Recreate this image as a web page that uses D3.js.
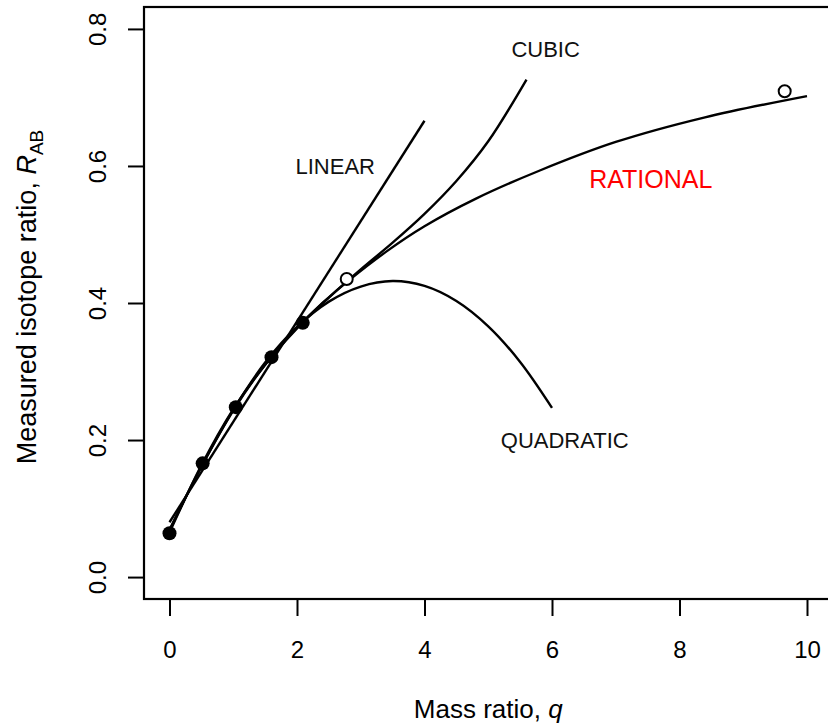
<!DOCTYPE html>
<html>
<head>
<meta charset="utf-8">
<script src="https://cdn.jsdelivr.net/npm/d3@7"></script>
<style>
  body { margin: 0; background: #fff; }
  svg { display: block; font-family: "Liberation Sans", Arial, sans-serif; }
</style>
</head>
<body>
<svg id="chart" width="828" height="724"></svg>
<script>
// measured points (q, R_AB)
const fitQ = [0, 0.52, 1.04, 1.6, 2.09];
const fitR = [0.064, 0.166, 0.248, 0.321, 0.371];
const testQ = [2.78, 9.65];
const testR = [0.435, 0.709];

// fitted curves
const linearQ = [0, 4];
const linearR = [0.080, 0.666];
const quadQ = [0, 0.5, 1, 1.5, 2, 2.5, 3, 3.5, 4, 4.5, 5, 5.5, 6];
const quadR = [0.069, 0.161, 0.244, 0.313, 0.365, 0.402, 0.424, 0.432, 0.425, 0.403, 0.366, 0.314, 0.247];
const cubicQ = [0, 0.5, 1, 1.5, 2, 2.5, 3, 3.5, 4, 4.5, 5, 5.6];
const cubicR = [0.065, 0.163, 0.245, 0.31, 0.364, 0.408, 0.449, 0.488, 0.53, 0.578, 0.636, 0.726];
const ratQ = [0, 0.5, 1, 1.5, 2, 2.4, 2.8, 3.4, 4, 4.8, 5.8, 7, 8.4, 10];
const ratR = [0.068, 0.161, 0.243, 0.31, 0.363, 0.4, 0.432, 0.475, 0.512, 0.552, 0.593, 0.635, 0.671, 0.702];

// curve labels
const labelNames = ['LINEAR', 'CUBIC', 'QUADRATIC', 'RATIONAL'];
const labelQ = [2.6, 5.9, 6.2, 7.55];
const labelR = [0.6, 0.771, 0.2, 0.581];

const xTicks = [0, 2, 4, 6, 8, 10];
const yTicks = [0, 0.2, 0.4, 0.6, 0.8];

const svg = d3.select('#chart');

const x = d3.scaleLinear().domain([-0.4, 10.4]).range([144, 832.5]);
const y = d3.scaleLinear().domain([-0.032, 0.832]).range([599, 7]);

const zip = (qs, rs) => qs.map((q, i) => ({ q: q, r: rs[i] }));

const line = d3
  .line()
  .x((d) => x(d.q))
  .y((d) => y(d.r))
  .curve(d3.curveCatmullRom.alpha(0.5));

// axes
const xAxis = svg
  .append('g')
  .attr('transform', 'translate(0,599)')
  .call(d3.axisBottom(x).tickValues(xTicks).tickSize(17).tickSizeOuter(0).tickFormat(d3.format('d')));
xAxis.select('.domain').remove();
xAxis.selectAll('line').attr('stroke-width', 2);
xAxis
  .selectAll('text')
  .attr('y', 59)
  .attr('dy', 0)
  .attr('font-size', '24px')
  .attr('fill', '#000')
  .attr('font-family', '"Liberation Sans", Arial, sans-serif');

const yAxis = svg
  .append('g')
  .attr('transform', 'translate(144,0)')
  .call(d3.axisLeft(y).tickValues(yTicks).tickSize(16).tickSizeOuter(0).tickFormat(d3.format('.1f')));
yAxis.select('.domain').remove();
yAxis.selectAll('line').attr('stroke-width', 2);
yAxis
  .selectAll('text')
  .attr('x', 0)
  .attr('dy', 0)
  .attr('transform', 'translate(-38,0) rotate(-90)')
  .attr('text-anchor', 'middle')
  .attr('font-size', '24px')
  .attr('fill', '#000')
  .attr('font-family', '"Liberation Sans", Arial, sans-serif');

// plot box
svg
  .append('rect')
  .attr('x', x.range()[0])
  .attr('y', y.range()[1])
  .attr('width', x.range()[1] - x.range()[0])
  .attr('height', y.range()[0] - y.range()[1])
  .attr('fill', 'none')
  .attr('stroke', '#000')
  .attr('stroke-width', 2.2);

// axis titles
const xTitle = svg
  .append('text')
  .attr('x', (x.range()[0] + x.range()[1]) / 2)
  .attr('y', 718)
  .attr('text-anchor', 'middle')
  .attr('font-size', '26px');
xTitle.append('tspan').text('Mass ratio, ');
xTitle.append('tspan').attr('font-style', 'italic').text('q');

const yTitle = svg
  .append('text')
  .attr('transform', `translate(36,${(y.range()[0] + y.range()[1]) / 2 - 6}) rotate(-90)`)
  .attr('text-anchor', 'middle')
  .attr('font-size', '27px');
yTitle.append('tspan').text('Measured isotope ratio, ');
yTitle.append('tspan').attr('font-style', 'italic').text('R');
yTitle.append('tspan').attr('font-size', '19px').attr('dy', 7).text('AB');

// fitted curves
const curves = [
  zip(linearQ, linearR),
  zip(quadQ, quadR),
  zip(cubicQ, cubicR),
  zip(ratQ, ratR),
];
svg
  .append('g')
  .selectAll('path')
  .data(curves)
  .join('path')
  .attr('d', line)
  .attr('fill', 'none')
  .attr('stroke', '#000')
  .attr('stroke-width', 2.4);

// curve labels
svg
  .append('g')
  .selectAll('text')
  .data(labelNames)
  .join('text')
  .attr('x', (d, i) => x(labelQ[i]))
  .attr('y', (d, i) => y(labelR[i]))
  .attr('dy', '0.36em')
  .attr('text-anchor', 'middle')
  .attr('font-size', (d) => (d === 'RATIONAL' ? '25px' : '22px'))
  .attr('fill', (d) => (d === 'RATIONAL' ? '#ff0000' : '#111'))
  .text((d) => d);

// points
svg
  .append('g')
  .selectAll('circle')
  .data(zip(testQ, testR))
  .join('circle')
  .attr('cx', (d) => x(d.q))
  .attr('cy', (d) => y(d.r))
  .attr('r', 6)
  .attr('fill', '#fff')
  .attr('stroke', '#000')
  .attr('stroke-width', 2);

svg
  .append('g')
  .selectAll('circle')
  .data(zip(fitQ, fitR))
  .join('circle')
  .attr('cx', (d) => x(d.q))
  .attr('cy', (d) => y(d.r))
  .attr('r', 7)
  .attr('fill', '#000');
</script>
</body>
</html>
